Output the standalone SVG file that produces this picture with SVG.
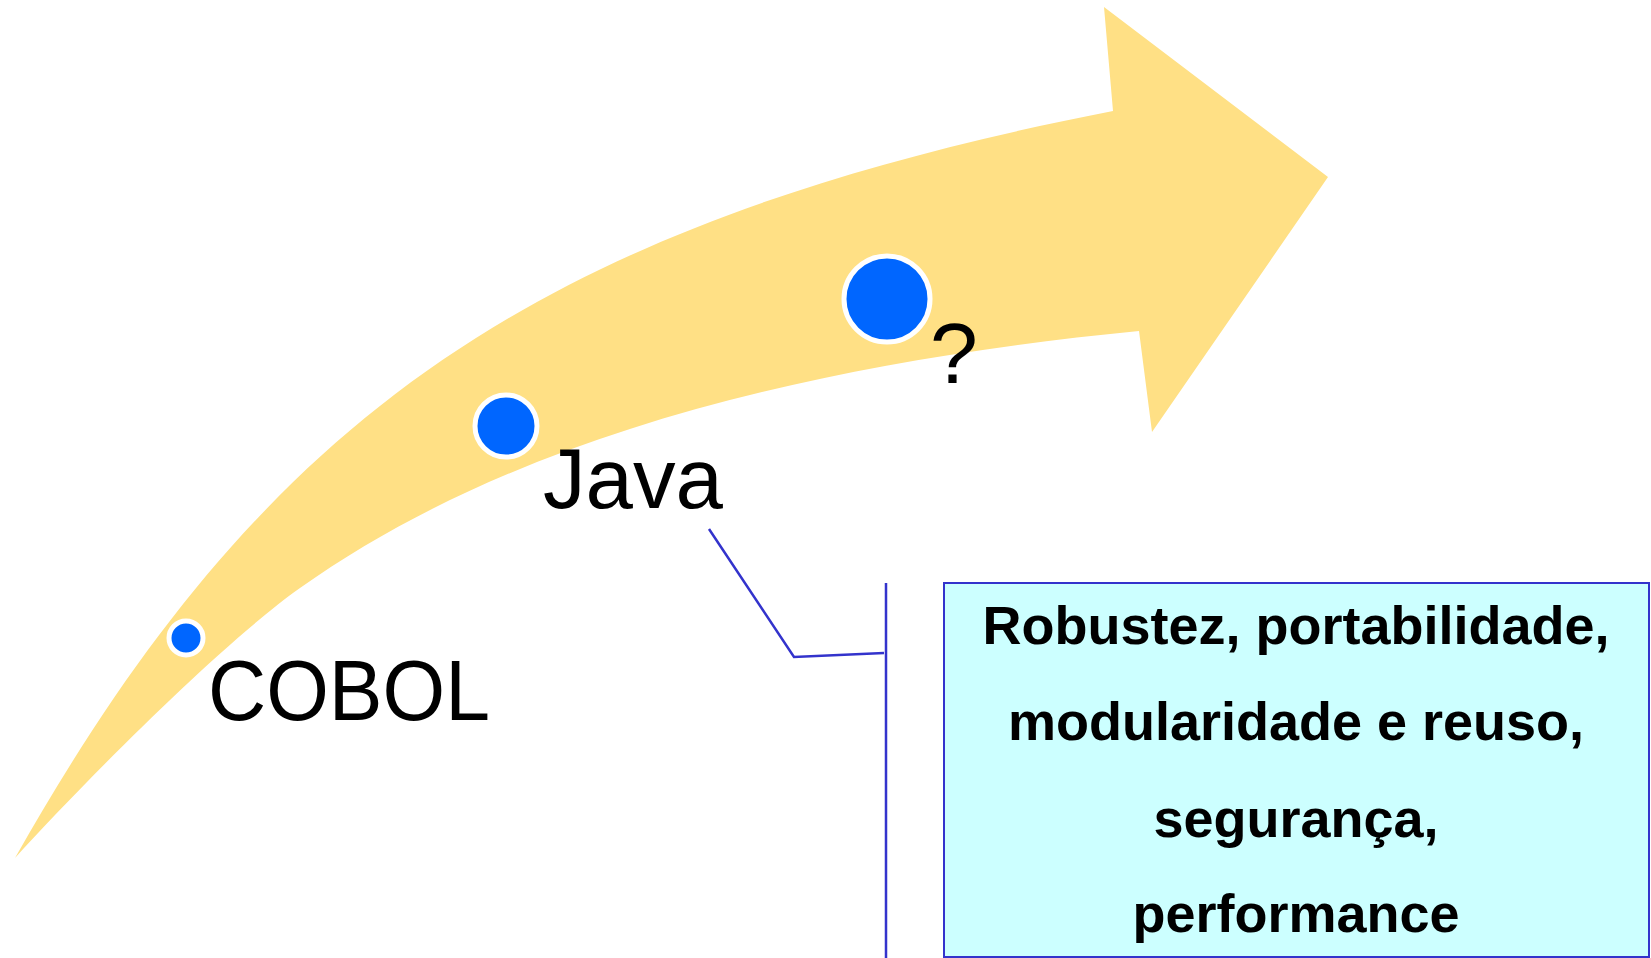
<svg xmlns="http://www.w3.org/2000/svg" width="1651" height="958" viewBox="0 0 1651 958">
<style>
.dot{fill:#0066FF;stroke:#FFFFFF;stroke-width:5}
.lbl{font-family:"Liberation Sans",Arial,sans-serif;font-size:86px;fill:#000000}
.box{fill:#CCFFFF;stroke:#3333CC;stroke-width:2}
.boxt{font-family:"Liberation Sans",Arial,sans-serif;font-size:54px;font-weight:bold;fill:#000000;text-anchor:middle}
.conn{fill:none;stroke:#3333CC;stroke-width:2.5}
</style>
<rect width="1651" height="958" fill="#FFFFFF"/>
<g id="arrow">
<path fill="#FFE085" d="M15,858 C260,425 524,226 1113,111 L1104,7 L1328,177 L1152,432 L1139,331 C790.75,365 503.75,443.25 300,588 C218.5,646 82.4,784 15,858 Z"/>
</g>
<g id="cobol">
<circle class="dot" cx="186" cy="638" r="17"/>
<text class="lbl" x="208" y="720" textLength="282" lengthAdjust="spacingAndGlyphs">COBOL</text>
</g>
<g id="java">
<circle class="dot" cx="506" cy="426" r="31"/>
<text class="lbl" x="543" y="508" textLength="180" lengthAdjust="spacingAndGlyphs">Java</text>
</g>
<g id="future">
<circle class="dot" cx="887" cy="299" r="43"/>
<text class="lbl" x="930" y="383">?</text>
</g>
<g id="connectors">
<polyline class="conn" points="709,529 794,657 884,653"/>
<line class="conn" x1="886" y1="583" x2="886" y2="958" stroke-width="3"/>
</g>
<g id="features">
<rect class="box" x="944" y="583" width="705" height="374"/>
<text class="boxt" x="1296" y="644">Robustez, portabilidade,</text>
<text class="boxt" x="1296" y="740">modularidade e reuso,</text>
<text class="boxt" x="1296" y="837">segurança,</text>
<text class="boxt" x="1296" y="932">performance</text>
</g>
</svg>
